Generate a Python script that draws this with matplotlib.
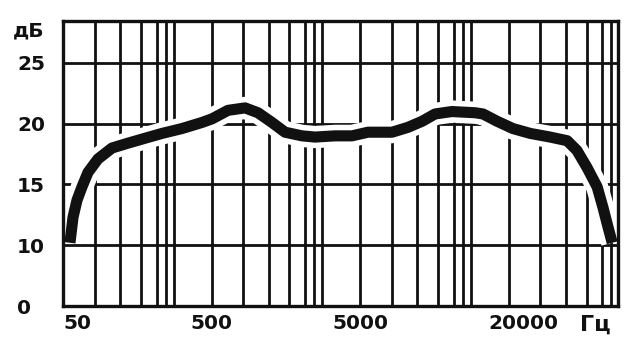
import numpy as np
import matplotlib
matplotlib.use("Agg")
import matplotlib.pyplot as plt
import matplotlib.patheffects as pe

# ---- data ----
freq_hz = [55.7, 58.4, 62.1, 67.1, 73.7, 86.0, 106.9, 137, 178, 232, 316, 431, 504,
           646, 841, 1028, 1277, 1563, 2032, 2488, 3397, 4415, 5350, 6560, 7510,
           8470, 9450, 10900, 13300, 14200, 16000, 18300, 21200, 25100, 29000,
           31500, 34300, 37400, 39300, 41000, 42500]
level_db = [10.2, 12.3, 13.7, 14.8, 16.0, 17.1, 18.0, 18.4, 18.8, 19.2, 19.6, 20.1, 20.4,
            21.1, 21.3, 20.9, 20.1, 19.3, 19.0, 18.9, 19.0, 19.0, 19.3, 19.3, 19.7,
            20.2, 20.8, 21.0, 20.9, 20.8, 20.2, 19.6, 19.2, 18.9, 18.6,
            17.8, 16.4, 14.8, 13.1, 11.5, 10.2]
x_tick_values = [50, 500, 5000, 20000]
x_tick_labels = ["50", "500", "5000", "20000"]
y_tick_values = [0, 10, 15, 20, 25]
y_tick_labels = ["0", "10", "15", "20", "25"]
y_grid_values = [10, 15, 20, 25]
x_unit = "Гц"
y_unit = "дБ"

INK = "#111111"
K = 1.10 / np.log10(4)


def x_fwd(f):
    lf = np.log10(np.clip(np.asarray(f, float), 1e-6, None) / 50.0)
    return np.where(lf <= 2, lf, 2 + (lf - 2) * K)


def x_inv(p):
    p = np.asarray(p, float)
    return np.where(p <= 2, 50.0 * 10 ** p, 5000.0 * 10 ** ((p - 2) / K))


def y_fwd(y):
    y = np.asarray(y, float)
    return np.where(y <= 10, y / 2.0, y - 5.0)


def y_inv(p):
    p = np.asarray(p, float)
    return np.where(p <= 5, 2.0 * p, p + 5.0)


fig = plt.figure(figsize=(6.4, 3.53), dpi=100)
ax = fig.add_axes([63 / 640, 47 / 353, 555 / 640, 285 / 353])
ax.set_xscale("function", functions=(x_fwd, x_inv))
ax.set_yscale("function", functions=(y_fwd, y_inv))
ax.set_xlim(float(x_inv(0.0)), float(x_inv(3.737)))
ax.set_ylim(0, 28.45)

# grid (pseudo-log paper)
fracs = [0.0, 0.214, 0.384, 0.525, 0.630, 0.692, 0.746]
grid_pos = [d + fr for d in range(4) for fr in fracs if 0 < d + fr < 3.72]
for gf in x_inv(np.array(grid_pos)):
    ax.axvline(gf, color=INK, lw=2.0, zorder=1)
for gy in y_grid_values:
    ax.axhline(gy, color=INK, lw=2.0, zorder=1)

# curve with white halo
ax.plot(freq_hz, level_db, color=INK, lw=8.0, solid_capstyle="butt",
        solid_joinstyle="round", zorder=3,
        path_effects=[pe.Stroke(linewidth=16, foreground="white", capstyle="butt"),
                      pe.Normal()])

for s in ax.spines.values():
    s.set_linewidth(2.4)
    s.set_color(INK)
    s.set_zorder(5)

fp = matplotlib.font_manager.FontProperties(family="DejaVu Sans", weight="bold", size=14.5)

ax.set_yticks(y_tick_values, y_tick_labels)
ax.set_xticks(x_tick_values, x_tick_labels)
ax.xaxis.set_minor_locator(matplotlib.ticker.NullLocator())
ax.yaxis.set_minor_locator(matplotlib.ticker.NullLocator())
ax.tick_params(axis="both", length=0)
ax.tick_params(axis="y", pad=33)
ax.tick_params(axis="x", pad=6)
for lbl in ax.get_yticklabels():
    lbl.set_fontproperties(fp)
    lbl.set_ha("left")
    lbl.set_color(INK)
for lbl in ax.get_xticklabels():
    lbl.set_fontproperties(fp)
    lbl.set_color(INK)
ax.get_xticklabels()[0].set_ha("left")

fig.text(13 / 640, 1 - 31 / 353, y_unit, ha="left", va="center",
         fontproperties=fp, color=INK)
fig.text(580 / 640, 1 - 325 / 353, x_unit, ha="left", va="center",
         fontproperties=matplotlib.font_manager.FontProperties(family="DejaVu Sans", weight="bold", size=16),
         color=INK)

fig.savefig("out.png", dpi=100, facecolor="white")
